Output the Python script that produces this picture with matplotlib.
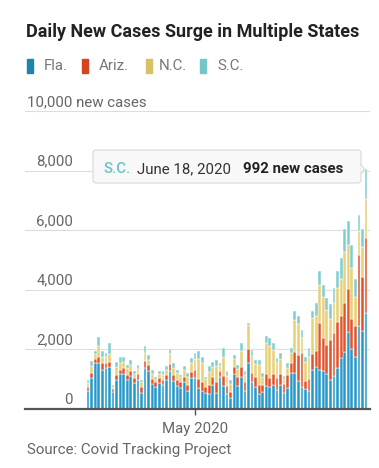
import numpy as np
import matplotlib
matplotlib.use("Agg")
from matplotlib import pyplot as plt
from matplotlib.patches import FancyBboxPatch, Polygon
from matplotlib.transforms import IdentityTransform
import matplotlib.dates as mdates

plt.rcParams['font.family'] = ['Roboto', 'DejaVu Sans']

# daily new cases, April 1 - June 18, 2020
dates = np.arange('2020-04-01', '2020-06-19', dtype='datetime64[D]')

fla = [620, 1040, 1550, 1550, 1300, 1370, 1420, 580, 960, 1160,
       1180, 980, 1100, 880, 970, 530, 1390, 1270, 830, 730,
       880, 820, 970, 1290, 940, 780, 700, 900, 620, 1040,
       1040, 700, 600, 540, 500, 820, 540, 1060, 780, 520,
       360, 1160, 760, 1060, 620, 1550, 920, 750, 520, 580,
       780, 740, 800, 650, 820, 540, 720, 1200, 1210, 930,
       740, 667, 617, 1317, 1419, 1305, 1270, 1180, 966, 1096,
       1371, 1698, 1902, 2581, 2016, 1758, 2783, 2610, 3207]
ariz = [120, 170, 130, 190, 230, 170, 160, 90, 190, 140,
        200, 160, 180, 160, 200, 220, 220, 190, 160, 170,
        150, 160, 160, 210, 200, 190, 200, 180, 170, 210,
        280, 290, 320, 210, 300, 270, 380, 200, 330, 250,
        220, 250, 320, 350, 300, 470, 300, 310, 300, 230,
        380, 300, 380, 400, 370, 300, 420, 330, 700, 870,
        1130, 263, 376, 530, 520, 1579, 1119, 965, 1356, 1450,
        1556, 1412, 1654, 1438, 1014, 1014, 2392, 1827, 2519]
nc = [140, 230, 180, 370, 210, 200, 280, 80, 270, 260,
      210, 220, 200, 140, 180, 140, 280, 200, 200, 110,
      140, 170, 180, 340, 250, 230, 160, 220, 290, 290,
      360, 700, 640, 240, 440, 330, 520, 180, 650, 340,
      270, 260, 250, 550, 220, 800, 560, 440, 660, 280,
      1060, 1080, 800, 480, 500, 180, 250, 350, 1070, 1050,
      520, 631, 742, 1213, 1185, 1289, 1370, 1192, 700, 1000,
      1120, 1250, 1700, 1500, 1700, 1000, 800, 1000, 1333]
sc = [100, 160, 100, 290, 190, 140, 350, 60, 170, 200,
      170, 120, 170, 80, 130, 90, 240, 160, 120, 80,
      90, 110, 120, 170, 150, 110, 90, 130, 120, 170,
      200, 240, 200, 100, 190, 170, 210, 100, 280, 150,
      130, 150, 150, 250, 120, 80, 210, 150, 170, 110,
      220, 260, 220, 170, 190, 80, 150, 160, 300, 260,
      270, 200, 300, 225, 420, 450, 400, 400, 500, 500,
      600, 700, 780, 780, 760, 580, 525, 593, 992]

states = ['Fla.', 'Ariz.', 'N.C.', 'S.C.']
colors = ['#2598cb', '#e2522b', '#e9cf76', '#7fcdd0']
legend_colors = ['#1c84ad', '#d8431f', '#d7c164', '#74c6c9']
y_ticks = [0, 2000, 4000, 6000, 8000]

W, H = 379, 468
fig = plt.figure(figsize=(W / 100, H / 100), dpi=100)

def px(x, y):
    return x / W, 1 - y / H

# plot area: x 25..370 px, y 0 at 409 px, 10,000 at 111 px
ax = fig.add_axes([25 / W, 1 - 409 / H, 345 / W, 298 / H])
series = [np.array(s) for s in (fla, ariz, nc, sc)]
bottom = np.zeros(len(dates))
for vals, col in zip(series, colors):
    ax.bar(dates, vals, bottom=bottom, width=0.78, color=col,
           edgecolor='white', linewidth=0.35)
    bottom += vals

d0 = mdates.date2num(dates[0])
ax.set_xlim(d0 - 17.7, d0 + 79.1)
ax.set_ylim(0, 10000)

for v in y_ticks[1:] + [10000]:
    ax.axhline(v, color='#dddddd', lw=0.8, zorder=0)
ytr = ax.get_yaxis_transform()
for v in y_ticks:
    ax.text(48 / 345, v + 170, f'{v:,}', transform=ytr,
            ha='right', va='baseline', fontsize=10.8, color='#666666')
ax.text(2 / 345, 10000 + 170, '10,000 new cases', transform=ytr,
        ha='left', va='baseline', fontsize=10.8, color='#666666')

for s in ['top', 'right', 'left']:
    ax.spines[s].set_visible(False)
ax.spines['bottom'].set_color('#555555')
ax.spines['bottom'].set_linewidth(1.6)
ax.set_yticks([])
ax.set_xticks([np.datetime64('2020-05-01')])
ax.set_xticklabels(['May 2020'])
ax.tick_params(axis='x', length=4, width=1, color='#555555', pad=5,
               labelsize=10.8, labelcolor='#666666')

# title and legend
fig.text(*px(26, 32), 'Daily New Cases Surge in Multiple States', fontsize=13,
         fontweight='bold', color='#222222', va='center', ha='left')
sw_x = [27, 82, 146, 200]
txt_x = [44, 99, 159, 217]
for sx, tx, name, col in zip(sw_x, txt_x, states, legend_colors):
    fig.add_artist(plt.Rectangle(px(sx, 73), 6 / W, 14 / H, color=col,
                                 transform=fig.transFigure))
    fig.text(*px(tx, 66), name, fontsize=10.8, color='#777777',
             va='center', ha='left')

fig.text(*px(27, 450), 'Source: Covid Tracking Project', fontsize=10.8,
         color='#666666', va='center', ha='left')

# tooltip for the last bar
tip = FancyBboxPatch((93, H - 183), 268, 33, boxstyle='round,pad=0,rounding_size=3',
                     transform=IdentityTransform(), facecolor='#f8f8f8',
                     edgecolor='#d8d8d8', lw=0.8, zorder=5)
fig.add_artist(tip)
fig.add_artist(Polygon([(360.5, H - 164), (364.5, H - 169), (360.5, H - 174)],
                       closed=False, transform=IdentityTransform(),
                       facecolor='#f8f8f8', edgecolor='#d8d8d8', lw=0.8, zorder=6))
fig.text(*px(103, 169), 'S.C.', fontsize=10.8, color='#6cc3c6', fontweight='medium',
         va='center', ha='left', zorder=7)
fig.text(*px(137, 169), 'June 18, 2020', fontsize=10.8, color='#333333',
         va='center', ha='left', zorder=7)
fig.text(*px(243, 169), f'{sc[-1]} new cases', fontsize=10.8, fontweight='bold',
         color='#222222', va='center', ha='left', zorder=7)

fig.savefig('out.png', dpi=100)
